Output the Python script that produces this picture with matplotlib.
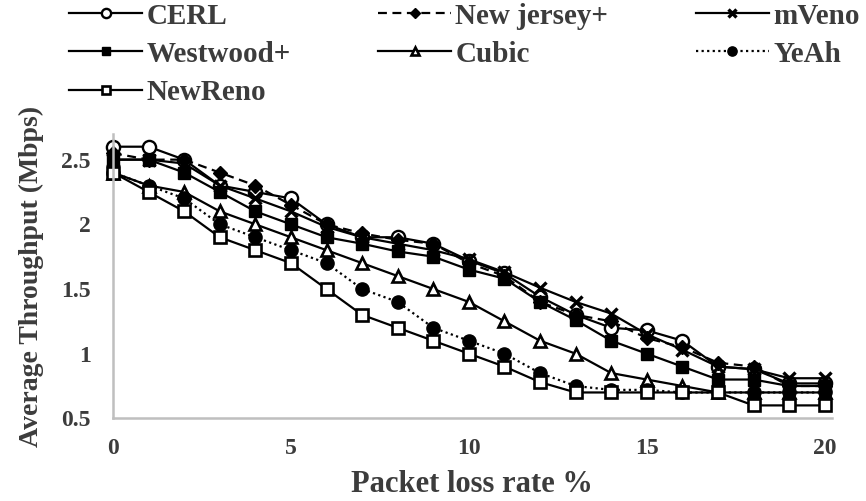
import numpy as np
import matplotlib.pyplot as plt

loss = np.arange(0, 21)

cerl = [2.6, 2.6, 2.5, 2.3, 2.25, 2.2, 2.0, 1.9, 1.9, 1.85, 1.72, 1.62, 1.44, 1.3, 1.2, 1.18, 1.1, 0.9, 0.88, 0.77, 0.77]
newjersey = [2.55, 2.5, 2.5, 2.4, 2.3, 2.15, 2.0, 1.93, 1.88, 1.85, 1.7, 1.6, 1.4, 1.3, 1.25, 1.12, 1.05, 0.93, 0.9, 0.75, 0.75]
mveno = [2.5, 2.5, 2.47, 2.3, 2.2, 2.1, 1.98, 1.9, 1.85, 1.8, 1.73, 1.63, 1.51, 1.4, 1.31, 1.15, 1.03, 0.9, 0.88, 0.81, 0.81]
westwood = [2.5, 2.5, 2.4, 2.25, 2.1, 2.0, 1.9, 1.85, 1.79, 1.75, 1.65, 1.58, 1.4, 1.26, 1.1, 1.0, 0.9, 0.8, 0.8, 0.75, 0.75]
cubic = [2.4, 2.3, 2.25, 2.1, 2.0, 1.9, 1.8, 1.7, 1.6, 1.5, 1.4, 1.25, 1.1, 1.0, 0.85, 0.8, 0.75, 0.7, 0.7, 0.7, 0.7]
yeah = [2.4, 2.3, 2.2, 2.0, 1.9, 1.8, 1.7, 1.5, 1.4, 1.2, 1.1, 1.0, 0.85, 0.75, 0.72, 0.72, 0.7, 0.7, 0.7, 0.7, 0.7]
newreno = [2.4, 2.25, 2.1, 1.9, 1.8, 1.7, 1.5, 1.3, 1.2, 1.1, 1.0, 0.9, 0.78, 0.7, 0.7, 0.7, 0.7, 0.7, 0.6, 0.6, 0.6]

plt.rcParams['font.family'] = ['Liberation Serif', 'DejaVu Serif']
plt.rcParams['font.weight'] = 'bold'
plt.rcParams['axes.labelweight'] = 'bold'
txt = '#3c3c3c'

fig = plt.figure(figsize=(8.66, 5.01), dpi=100)
ax = fig.add_axes([0.1305, 0.165, 0.830, 0.568])

lw = 1.6
common = dict(color='black', lw=lw, clip_on=False)
h_cerl, = ax.plot(loss, cerl, marker='o', ms=9.5, mfc='white', mec='black', mew=1.7, label='CERL', **common)
h_nj, = ax.plot(loss, newjersey, ls=(0, (4, 2.5)), marker='D', ms=7.5, mfc='black', mec='black', label='New jersey+', **common)
h_mv, = ax.plot(loss, mveno, marker='x', ms=9, mew=2.4, mec='black', label='mVeno', **common)
h_ww, = ax.plot(loss, westwood, marker='s', ms=9, mfc='black', mec='black', label='Westwood+', **common)
h_cu, = ax.plot(loss, cubic, marker='^', ms=9, mfc='white', mec='black', mew=1.9, label='Cubic', **common)
h_ye, = ax.plot(loss, yeah, ls=(0, (1, 1.5)), marker='o', ms=9.5, mfc='black', mec='black', label='YeAh', **common)
h_nr, = ax.plot(loss, newreno, marker='s', ms=9, mfc='white', mec='black', mew=1.9, label='NewReno', **common)

ax.set_xlim(0, 20.2)
ax.set_ylim(0.5, 2.7)
ax.set_xticks([0, 5, 10, 15, 20])
ax.set_yticks([0.5, 1, 1.5, 2, 2.5])
ax.set_yticklabels(['0.5', '1', '1.5', '2', '2.5'])
ax.tick_params(length=0, labelsize=17, colors=txt)
ax.tick_params(axis='x', pad=14)
ax.tick_params(axis='y', pad=16)
for side in ['top', 'right']:
    ax.spines[side].set_visible(False)
for side in ['left', 'bottom']:
    ax.spines[side].set_color('#bfbfbf')
    ax.spines[side].set_linewidth(1.8)

ax.set_xlabel('Packet loss rate %', fontsize=22, color=txt, labelpad=8)
ax.set_ylabel('Average Throughput (Mbps)', fontsize=20, color=txt, labelpad=12)

# legend fills column by column
handles = [h_cerl, h_ww, h_nr, h_nj, h_cu, h_mv, h_ye]
fig.legend(handles=handles, labels=[h.get_label() for h in handles],
           loc='upper left', bbox_to_anchor=(0.063, 1.024), ncol=3, frameon=False,
           fontsize=21, labelcolor=txt, handlelength=2.5, handletextpad=0.15,
           columnspacing=3.0, labelspacing=0.38, borderpad=0, markerscale=0.7)

fig.savefig('out.png', dpi=100)
